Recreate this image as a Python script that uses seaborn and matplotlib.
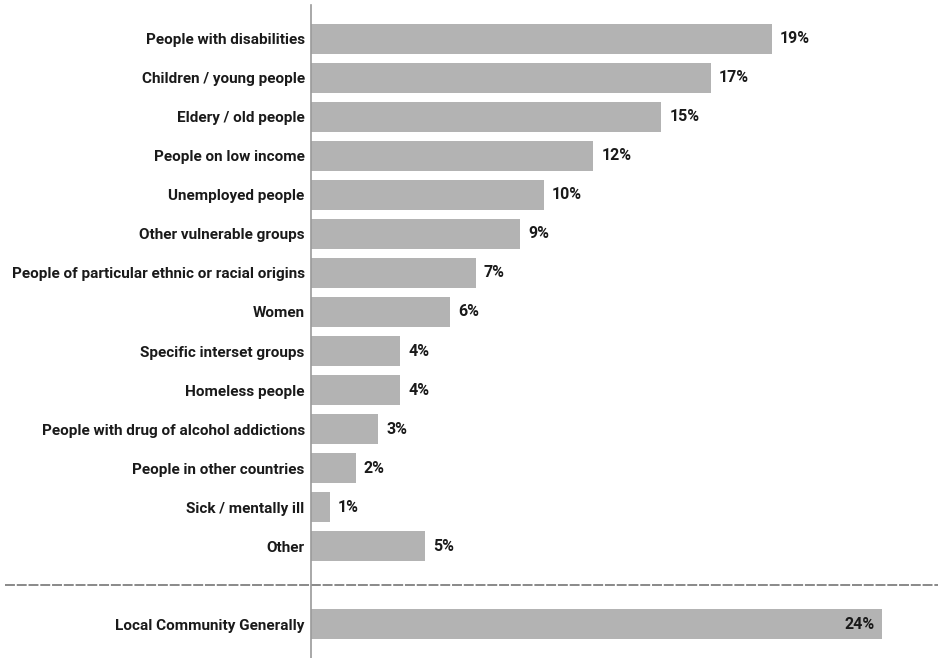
import matplotlib
matplotlib.use("Agg")
import matplotlib.pyplot as plt
import matplotlib.transforms as mtransforms
import seaborn as sns
import pandas as pd

categories = [
    "People with disabilities",
    "Children / young people",
    "Eldery / old people",
    "People on low income",
    "Unemployed people",
    "Other vulnerable groups",
    "People of particular ethnic or racial origins",
    "Women",
    "Specific interset groups",
    "Homeless people",
    "People with drug of alcohol addictions",
    "People in other countries",
    "Sick / mentally ill",
    "Other",
    "Local Community Generally",
]
values = [19.6, 17.0, 14.9, 12.0, 9.9, 8.9, 7.0, 5.9, 3.8, 3.8, 2.85, 1.9, 0.8, 4.85, 24.3]
value_labels = ["19%", "17%", "15%", "12%", "10%", "9%", "7%", "6%", "4%", "4%",
                "3%", "2%", "1%", "5%", "24%"]

order = categories[:14] + [" "] + categories[14:]

sns.set_theme(style="white")
plt.rcParams["font.family"] = ["Roboto", "DejaVu Sans"]

df = pd.DataFrame({"category": categories, "value": values})

fig = plt.figure(figsize=(9.38, 6.58), dpi=100)
ax = fig.add_axes([311 / 938, 0, 627 / 938, 653 / 658])

sns.barplot(data=df, y="category", x="value", order=order, orient="h",
            color="#b3b3b3", saturation=1, width=0.78, ax=ax, edgecolor="none")

ax.set_xlim(0, 627 / 23.5)
ax.set_ylim(15.87, -0.87)
ax.set_xlabel("")
ax.set_ylabel("")
ax.set_xticks([])
ax.tick_params(axis="y", length=0, pad=4.5)
for lbl in ax.get_yticklabels():
    lbl.set_fontweight("bold")
    lbl.set_fontsize(11)
    lbl.set_color("#1a1a1a")

for s in ["top", "right", "bottom"]:
    ax.spines[s].set_visible(False)
ax.spines["left"].set_color("#9a9a9a")
ax.spines["left"].set_linewidth(1.2)

pos = {c: i for i, c in enumerate(order)}
for c, v, t in zip(categories, values, value_labels):
    y = pos[c]
    if c == "Local Community Generally":
        ax.annotate(t, (v, y), xytext=(-5, 0), textcoords="offset points",
                    ha="right", va="center", fontsize=11.5, fontweight="bold", color="#1a1a1a")
    else:
        ax.annotate(t, (v, y), xytext=(6, 0), textcoords="offset points",
                    ha="left", va="center", fontsize=11.5, fontweight="bold", color="#1a1a1a")

trans = mtransforms.blended_transform_factory(fig.transFigure, ax.transData)
ax.plot([5 / 938, 1.0], [14, 14], transform=trans, clip_on=False,
        color="#6a6a6a", lw=1.1, ls=(0, (6.5, 1.2)))

fig.savefig("out.png", dpi=100)
